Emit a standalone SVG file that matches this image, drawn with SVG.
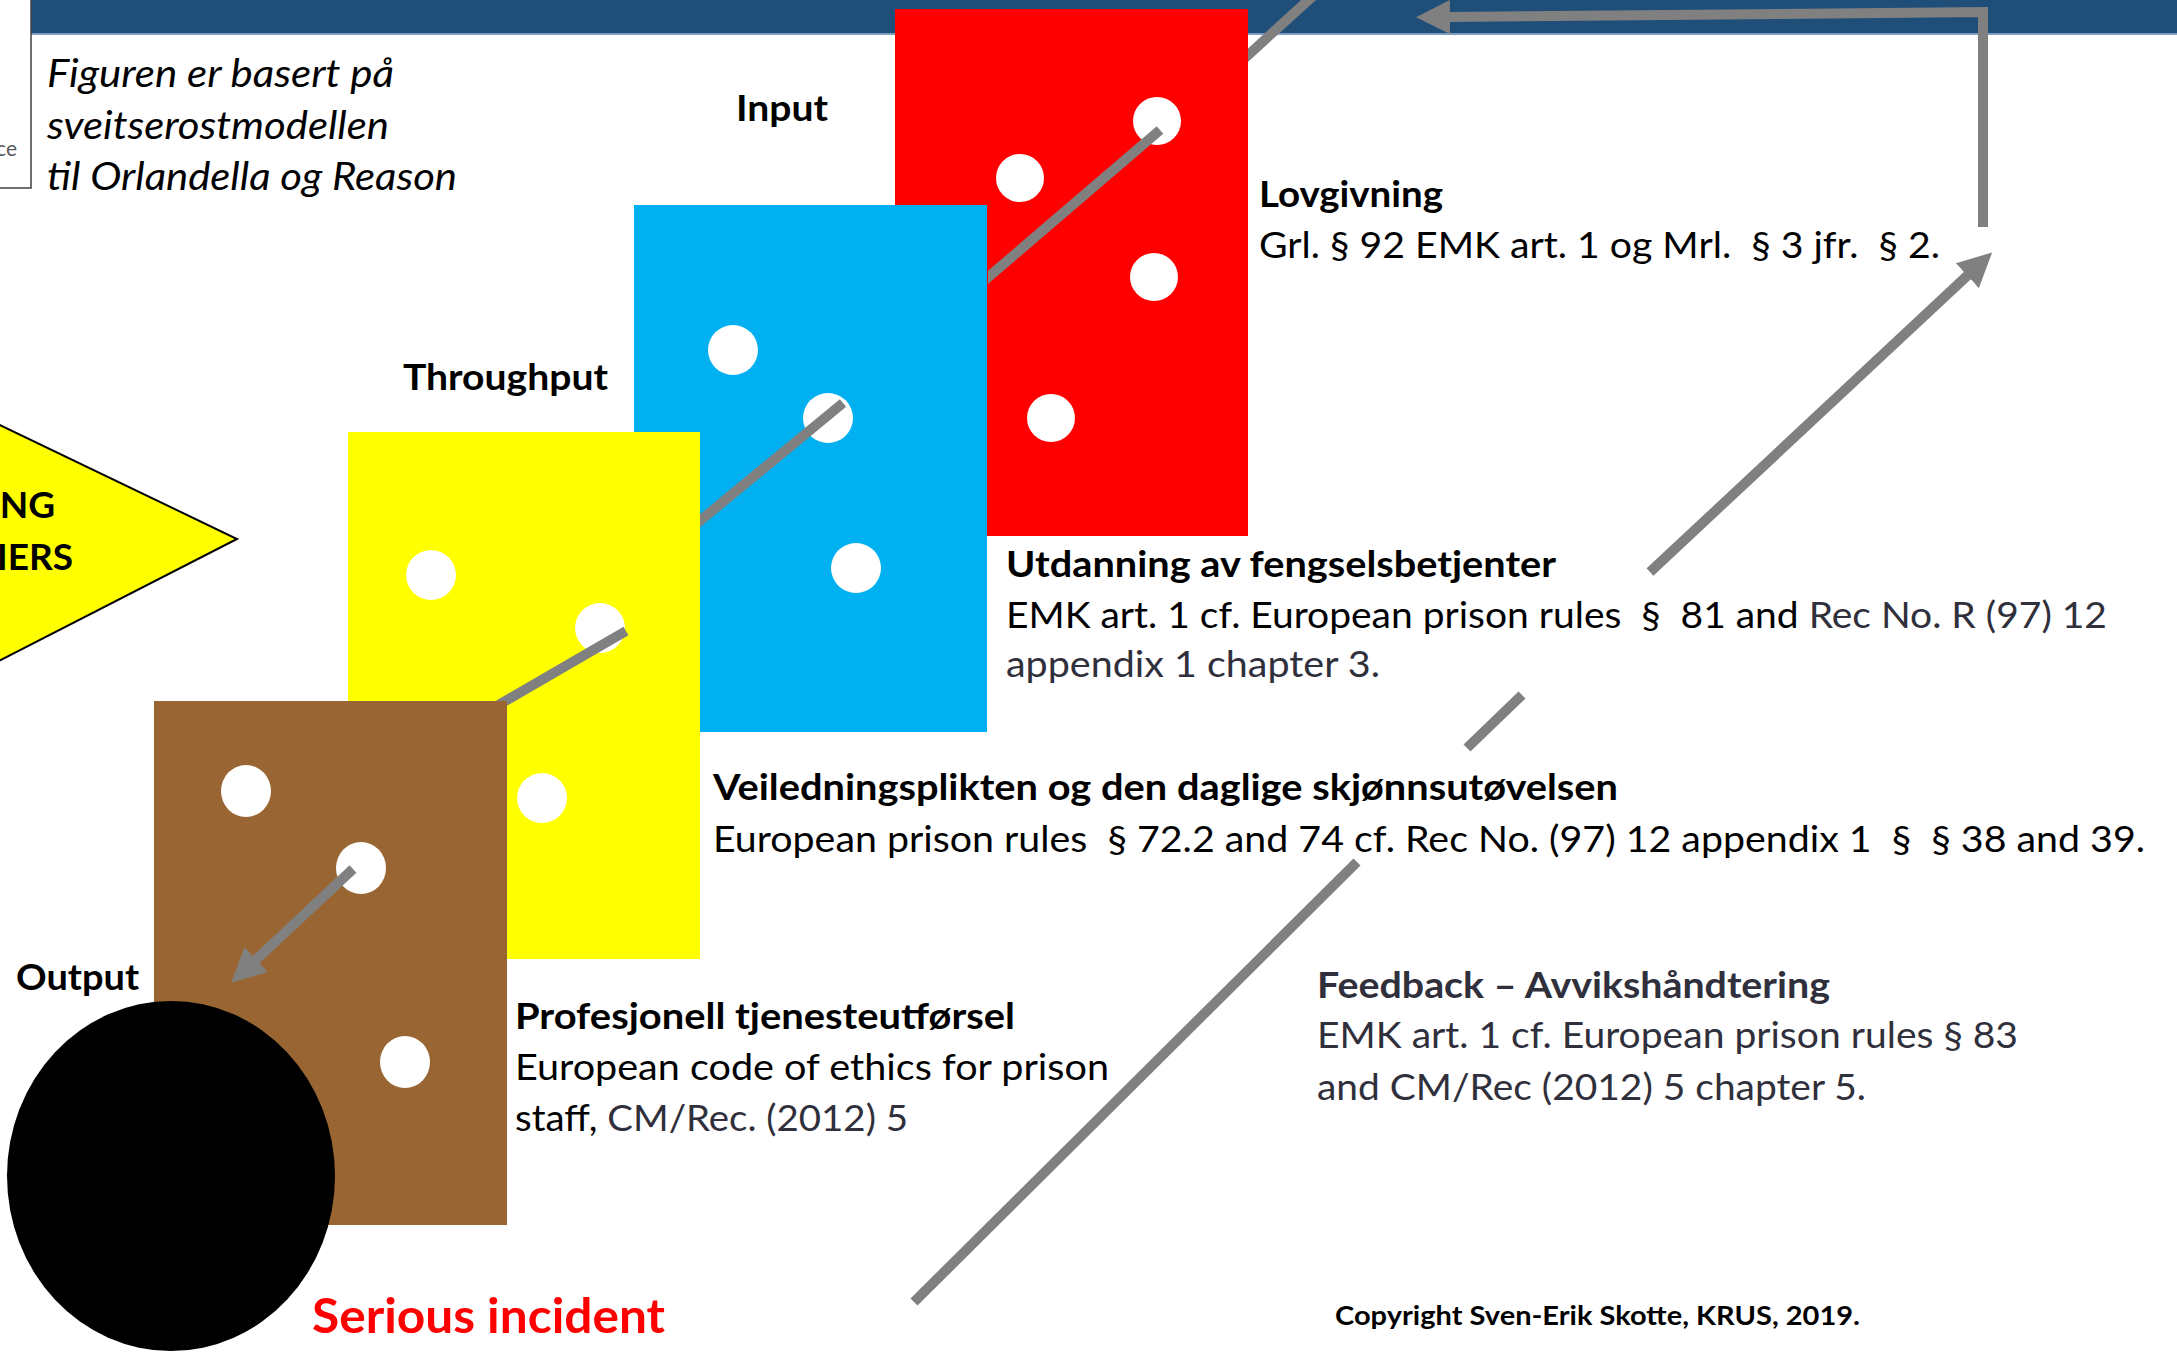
<svg xmlns="http://www.w3.org/2000/svg" width="2177" height="1352" viewBox="0 0 2177 1352">
<style>
text{font-family:Lato,"Liberation Sans",sans-serif;fill:#000;white-space:pre}
.h{font-weight:700;font-size:37px}
.b{font-weight:400;font-size:37px}
.g{fill:#30303c}
.it{font-style:italic;font-size:38px}
.lbl{font-weight:700;font-size:37px}
.dot{fill:#fff}
.cn{stroke:#808080;stroke-width:10;fill:none;stroke-linecap:butt;stroke-linejoin:miter}
</style>
<defs>
<marker id="ah" markerUnits="userSpaceOnUse" viewBox="0 0 34 34" markerWidth="34" markerHeight="34" refX="1" refY="17" orient="auto">
<path d="M0,0 L34,17 L0,34 Z" fill="#808080"/>
</marker>
<clipPath id="cRed"><rect x="1248" y="-20" width="200" height="200"/></clipPath>
<clipPath id="cBlue"><rect x="988" y="0" width="400" height="600"/></clipPath>
<clipPath id="cYel"><rect x="700" y="0" width="400" height="800"/></clipPath>
<clipPath id="cBrown"><path d="M0,0 H2177 V1352 H507 V701 H0 Z"/></clipPath>
</defs>
<rect width="2177" height="1352" fill="#fff"/>

<g id="topbar">
<rect x="31" y="0" width="2146" height="33" fill="#1F4E79"/>
<rect x="31" y="33" width="2146" height="2" fill="#7F9DC0"/>
</g>
<g id="sourcebox">
<rect x="-2" y="-2" width="33" height="190" fill="#fff" stroke="#404040" stroke-width="1.5"/>
<text x="17" y="156" text-anchor="end" style="font-size:21px;fill:#595959">ce</text>
</g>

<g id="note">
<text class="it" x="47" y="87" textLength="347" lengthAdjust="spacingAndGlyphs">Figuren er basert på</text>
<text class="it" x="47" y="138.5" textLength="342" lengthAdjust="spacingAndGlyphs">sveitserostmodellen</text>
<text class="it" x="47" y="190" textLength="410" lengthAdjust="spacingAndGlyphs">til Orlandella og Reason</text>
</g>

<g id="barriers">
<polygon points="-50,401 237,539 -50,686" fill="#FFFF00" stroke="#000" stroke-width="2"/>
<text class="lbl" x="55" y="518" text-anchor="end">NG</text>
<text class="lbl" x="73" y="570" text-anchor="end">IERS</text>
</g>

<g id="slice-input">
<rect x="895" y="9" width="353" height="527" fill="#FF0000"/>
<circle class="dot" cx="1157" cy="121" r="24"/>
<circle class="dot" cx="1020" cy="178" r="24"/>
<circle class="dot" cx="1154" cy="277" r="24"/>
<circle class="dot" cx="1051" cy="418" r="24"/>
</g>
<g id="slice-education">
<rect x="634" y="205" width="353" height="527" fill="#00B0F0"/>
<circle class="dot" cx="733" cy="350" r="25"/>
<circle class="dot" cx="828" cy="418" r="25"/>
<circle class="dot" cx="856" cy="568" r="25"/>
</g>
<g id="slice-throughput">
<rect x="348" y="432" width="352" height="527" fill="#FFFF00"/>
<circle class="dot" cx="431" cy="575" r="25"/>
<circle class="dot" cx="600" cy="628" r="25"/>
<circle class="dot" cx="542" cy="798" r="25"/>
</g>
<g id="slice-output">
<rect x="154" y="701" width="353" height="524" fill="#996633"/>
<ellipse class="dot" cx="246" cy="791" rx="25" ry="26"/>
<ellipse class="dot" cx="361" cy="868" rx="25" ry="26"/>
<ellipse class="dot" cx="405" cy="1062" rx="25" ry="26"/>
</g>
<g id="incident">
<ellipse cx="171" cy="1176" rx="164" ry="175" fill="#000"/>
</g>

<g id="connectors">
<line class="cn" x1="1190" y1="108" x2="1314" y2="-5" clip-path="url(#cRed)"/>
<line class="cn" x1="1160" y1="130" x2="978" y2="286" clip-path="url(#cBlue)"/>
<line class="cn" x1="843" y1="403" x2="690" y2="529" clip-path="url(#cYel)"/>
<line class="cn" x1="626" y1="631" x2="495" y2="707" clip-path="url(#cBrown)"/>
<line class="cn" x1="353" y1="869" x2="255.4" y2="960.2" marker-end="url(#ah)"/>
<line class="cn" x1="914" y1="1302" x2="1357" y2="862"/>
<line class="cn" x1="1467" y1="748" x2="1522" y2="695"/>
<line class="cn" x1="1650" y1="572" x2="1968" y2="275" marker-end="url(#ah)"/>
<path class="cn" d="M1983,227 L1983,12 L1449,17" marker-end="url(#ah)"/>
</g>

<g id="stage-labels">
<text class="lbl" x="736" y="121" textLength="92" lengthAdjust="spacingAndGlyphs">Input</text>
<text class="lbl" x="403" y="390" textLength="205" lengthAdjust="spacingAndGlyphs">Throughput</text>
<text class="lbl" x="16" y="990" textLength="123" lengthAdjust="spacingAndGlyphs">Output</text>
</g>

<g id="label-lovgivning">
<text class="h" x="1259" y="207" textLength="184" lengthAdjust="spacingAndGlyphs">Lovgivning</text>
<text class="b" xml:space="preserve" x="1259" y="258" textLength="681" lengthAdjust="spacingAndGlyphs">Grl. § 92 EMK art. 1 og Mrl.  § 3 jfr.  § 2.</text>
</g>
<g id="label-utdanning">
<text class="h" x="1006" y="577" textLength="550" lengthAdjust="spacingAndGlyphs">Utdanning av fengselsbetjenter</text>
<text class="b" xml:space="preserve" x="1006" y="628" textLength="1101" lengthAdjust="spacingAndGlyphs">EMK art. 1 cf. European prison rules  §  81 and <tspan class="g">Rec No. R (97) 12</tspan></text>
<text class="b g" x="1006" y="677" textLength="374" lengthAdjust="spacingAndGlyphs">appendix 1 chapter 3.</text>
</g>
<g id="label-veiledning">
<text class="h" x="713" y="800" textLength="905" lengthAdjust="spacingAndGlyphs">Veiledningsplikten og den daglige skjønnsutøvelsen</text>
<text class="b" xml:space="preserve" x="713" y="852" textLength="1432" lengthAdjust="spacingAndGlyphs">European prison rules  § 72.2 and 74 cf. Rec No. (97) 12 appendix 1  §  § 38 and 39.</text>
</g>
<g id="label-profesjonell">
<text class="h" x="515" y="1029" textLength="500" lengthAdjust="spacingAndGlyphs">Profesjonell tjenesteutførsel</text>
<text class="b" x="515" y="1080" textLength="594" lengthAdjust="spacingAndGlyphs">European code of ethics for prison</text>
<text class="b" xml:space="preserve" x="515" y="1131" textLength="393" lengthAdjust="spacingAndGlyphs">staff, <tspan class="g">CM/Rec. (2012) 5</tspan></text>
</g>
<g id="label-feedback">
<text class="h g" x="1317" y="998" textLength="513" lengthAdjust="spacingAndGlyphs">Feedback – Avvikshåndtering</text>
<text class="b g" x="1317" y="1048" textLength="701" lengthAdjust="spacingAndGlyphs">EMK art. 1 cf. European prison rules § 83</text>
<text class="b g" x="1317" y="1100" textLength="549" lengthAdjust="spacingAndGlyphs">and CM/Rec (2012) 5 chapter 5.</text>
</g>
<g id="label-incident">
<text x="312" y="1333" textLength="353" lengthAdjust="spacingAndGlyphs" style="font-weight:700;font-size:47px;fill:#FF0000">Serious incident</text>
</g>
<g id="copyright">
<text x="1335" y="1325" textLength="525" lengthAdjust="spacingAndGlyphs" style="font-weight:700;font-size:26px">Copyright Sven-Erik Skotte, KRUS, 2019.</text>
</g>
</svg>
